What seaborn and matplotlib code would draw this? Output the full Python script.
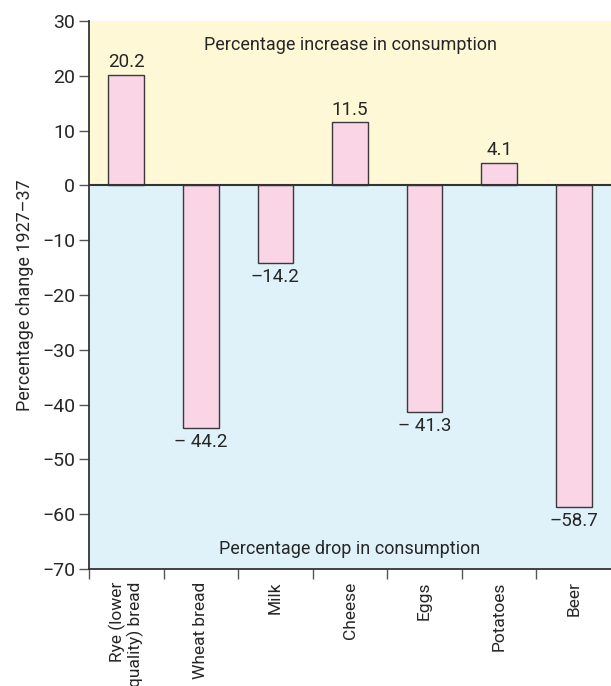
import matplotlib
matplotlib.use("Agg")
import matplotlib.pyplot as plt
import seaborn as sns
import pandas as pd

# data
foods = ["Rye (lower\nquality) bread", "Wheat bread", "Milk", "Cheese", "Eggs", "Potatoes", "Beer"]
change = [20.2, -44.2, -14.2, 11.5, -41.3, 4.1, -58.7]
value_labels = ["20.2", "\u2013 44.2", "\u201314.2", "11.5", "\u2013 41.3", "4.1", "\u201358.7"]

sns.set_style("white")
plt.rcParams['font.family'] = ['Roboto', 'DejaVu Sans']
plt.rcParams['axes.unicode_minus'] = True

df = pd.DataFrame({"food": foods, "change": change})

fig = plt.figure(figsize=(6.11, 6.86), dpi=100)
ax = fig.add_axes([89 / 611, 117 / 686, 1 - 89 / 611, 548 / 686])

# background bands
ax.axhspan(0, 30, color="#fef8d7", zorder=0)
ax.axhspan(-70, 0, color="#dff2fa", zorder=0)

sns.barplot(data=df, x="food", y="change", color="#f9d5e6", edgecolor="#3a3a3a",
            linewidth=1.0, width=0.48, saturation=1, ax=ax, zorder=2)
ax.axhline(0, color="#333333", linewidth=1.5, zorder=3)

txt = "#262626"
for i, (v, lab) in enumerate(zip(change, value_labels)):
    if v >= 0:
        ax.text(i, v + 0.7, lab, ha="center", va="bottom", fontsize=13.5, color=txt)
    else:
        ax.text(i, v - 0.9, lab, ha="center", va="top", fontsize=13.5, color=txt)

ax.text(3, 25.6, "Percentage increase in consumption", ha="center", va="center",
        fontsize=13, color=txt)
ax.text(3, -66.3, "Percentage drop in consumption", ha="center", va="center",
        fontsize=13, color=txt)

ax.set_xlim(-0.5, 6.5)
ax.set_ylim(-70, 30)
ax.set_yticks(range(-70, 31, 10))
ax.tick_params(axis="y", direction="out", length=7, width=1, color="#555555",
               labelsize=14, labelcolor=txt, left=True, pad=3)
ax.set_xticks(range(len(foods)))
ax.set_xticklabels(foods, rotation=90, va="top", ha="center", multialignment="right",
                   fontsize=12.5, color=txt, linespacing=1.0)
ax.tick_params(axis="x", length=0, pad=9)
ax.set_xticks([i - 0.5 for i in range(len(foods))], minor=True)
ax.tick_params(axis="x", which="minor", direction="out", length=7, width=1,
               color="#555555", bottom=True)

ax.set_xlabel("")
ax.set_ylabel("Percentage change 1927\u201337", fontsize=13, color=txt, labelpad=6)

for s in ["top", "right"]:
    ax.spines[s].set_visible(False)
for s in ["left", "bottom"]:
    ax.spines[s].set_color("#333333")
    ax.spines[s].set_linewidth(1.3)

fig.savefig("out.png", dpi=100)
